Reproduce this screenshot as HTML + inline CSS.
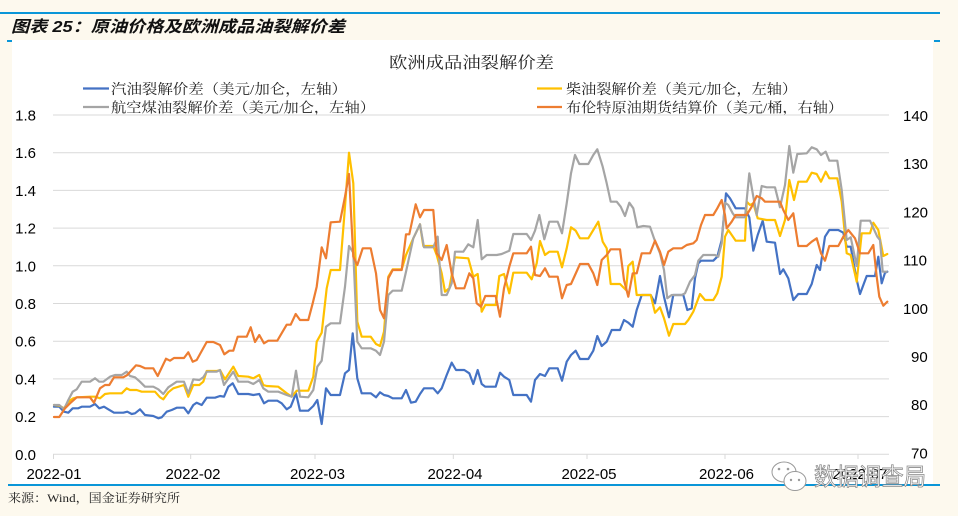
<!DOCTYPE html>
<html><head><meta charset="utf-8">
<style>
html,body{margin:0;padding:0;background:#fdf9ee;}
svg{display:block;}
.ax{font-family:"Liberation Sans",Arial,sans-serif;font-size:15px;fill:#000;}
.cj{font-family:"Liberation Serif","Noto Serif CJK SC",serif;fill:#222;}
</style></head><body>
<svg width="958" height="516" viewBox="0 0 958 516" xmlns="http://www.w3.org/2000/svg">
<rect x="0" y="0" width="958" height="516" fill="#fdf9ee"/>
<rect x="0" y="12" width="940" height="2" fill="#0a96d8"/>
<text x="11" y="32" font-family="Liberation Sans,'Noto Sans CJK SC',sans-serif" font-size="16" font-weight="bold" font-style="italic" fill="#111" textLength="334" lengthAdjust="spacingAndGlyphs">图表 25：原油价格及欧洲成品油裂解价差</text>
<rect x="12" y="40" width="921" height="444" fill="#ffffff"/>
<rect x="7" y="40" width="5" height="2" fill="#0a96d8"/>
<rect x="934" y="40" width="6" height="2" fill="#0a96d8"/>
<rect x="8" y="484" width="932" height="2" fill="#0a96d8"/>
<text x="8" y="502" class="cj" font-size="12" fill="#333" textLength="172" lengthAdjust="spacingAndGlyphs">来源：Wind，国金证券研究所</text>

<text x="389" y="68" class="cj" font-size="16" textLength="165" lengthAdjust="spacingAndGlyphs">欧洲成品油裂解价差</text>

<!-- legend -->
<line x1="83" y1="88.5" x2="109" y2="88.5" stroke="#4472c4" stroke-width="2.2"/>
<text x="111" y="94" class="cj" font-size="14" textLength="236" lengthAdjust="spacingAndGlyphs">汽油裂解价差（美元/加仑，左轴）</text>
<line x1="83" y1="107" x2="109" y2="107" stroke="#a5a5a5" stroke-width="2.2"/>
<text x="111" y="112.5" class="cj" font-size="14" textLength="264" lengthAdjust="spacingAndGlyphs">航空煤油裂解价差（美元/加仑，左轴）</text>
<line x1="537" y1="88.5" x2="562" y2="88.5" stroke="#ffc000" stroke-width="2.2"/>
<text x="566" y="94" class="cj" font-size="14" textLength="231" lengthAdjust="spacingAndGlyphs">柴油裂解价差（美元/加仑，左轴）</text>
<line x1="537" y1="107" x2="562" y2="107" stroke="#ed7d31" stroke-width="2.2"/>
<text x="566" y="112.5" class="cj" font-size="14" textLength="277" lengthAdjust="spacingAndGlyphs">布伦特原油期货结算价（美元/桶，右轴）</text>

<!-- gridlines -->
<g stroke="#d9d9d9" stroke-width="1">
<line x1="53" y1="115" x2="889" y2="115"/>
<line x1="53" y1="152.7" x2="889" y2="152.7"/>
<line x1="53" y1="190.4" x2="889" y2="190.4"/>
<line x1="53" y1="228.1" x2="889" y2="228.1"/>
<line x1="53" y1="265.8" x2="889" y2="265.8"/>
<line x1="53" y1="303.5" x2="889" y2="303.5"/>
<line x1="53" y1="341.2" x2="889" y2="341.2"/>
<line x1="53" y1="378.9" x2="889" y2="378.9"/>
<line x1="53" y1="416.6" x2="889" y2="416.6"/>
<line x1="53" y1="454.3" x2="889" y2="454.3"/>
<line x1="53.5" y1="454" x2="53.5" y2="459"/>
<line x1="190.7" y1="454" x2="190.7" y2="459"/>
<line x1="315" y1="454" x2="315" y2="459"/>
<line x1="453.3" y1="454" x2="453.3" y2="459"/>
<line x1="587" y1="454" x2="587" y2="459"/>
<line x1="725" y1="454" x2="725" y2="459"/>
<line x1="858" y1="454" x2="858" y2="459"/>
</g>

<!-- left axis -->
<g class="ax" text-anchor="end">
<text x="36" y="120.5">1.8</text>
<text x="36" y="158.2">1.6</text>
<text x="36" y="195.9">1.4</text>
<text x="36" y="233.6">1.2</text>
<text x="36" y="271.3">1.0</text>
<text x="36" y="309">0.8</text>
<text x="36" y="346.7">0.6</text>
<text x="36" y="384.4">0.4</text>
<text x="36" y="422.1">0.2</text>
<text x="36" y="459.8">0.0</text>
</g>
<!-- right axis -->
<g class="ax">
<text x="903" y="121">140</text>
<text x="903" y="169.2">130</text>
<text x="903" y="217.4">120</text>
<text x="903" y="265.6">110</text>
<text x="903" y="313.8">100</text>
<text x="911" y="362">90</text>
<text x="911" y="410.2">80</text>
<text x="911" y="458.4">70</text>
</g>
<!-- x axis -->
<g class="ax" text-anchor="middle">
<text x="54" y="479">2022-01</text>
<text x="193" y="479">2022-02</text>
<text x="317.5" y="479">2022-03</text>
<text x="455" y="479">2022-04</text>
<text x="589" y="479">2022-05</text>
<text x="726.5" y="479">2022-06</text>
<text x="860" y="479">2022-07</text>
</g>

<g fill="none" stroke-width="2.2" stroke-linejoin="round" stroke-linecap="round">
<polyline stroke="#4472c4" points="54,406.7 59.3,406.7 64,411.7 68.3,412.7 72.7,408.3 78.3,408.3 81.7,406.7 90,406.7 95,404 99.3,408.3 104,406.7 108.3,409.3 114,412.7 123.3,412.7 127.3,411.7 131.7,414 135,413.3 140,409.3 145,415 153.3,416 158.3,418.3 161.7,417.3 166.7,411.7 171.7,410 176.7,407.7 184,407.7 188.3,413.3 193.3,405 196.7,402.7 201.7,405 206.7,397.7 215,397.7 220,396 224,396.7 228.3,386.7 232.7,383.3 238.3,394 248.3,394 253.3,395 259.3,394 264,403.3 268.3,400.7 277.3,400.7 281.7,403.3 286.7,409.3 290.7,406.7 296,393.3 300,410.7 308.3,410.7 313.3,406 317.3,400 321.7,424 326,388.3 330.7,395 340,395 345,373.3 349,370 352.7,333.3 357.3,378.3 361.7,393.3 370.7,393.3 376,397.3 380,392.3 384,395 388.3,396 392.7,398.3 401.7,398.3 406,390 411,402.7 415.7,401.7 420,394 424,388.3 433.3,388.3 437.7,393.3 441.7,388.3 446.7,375 451.7,362.7 456,370 464.3,370 469.3,373.3 473.3,384 477.7,370 481.7,384 485.3,386.7 495.7,386.7 500,372.7 504,376.7 509.3,380 513.3,395 526.7,395 531,401.7 535,380 540,374 545,376 549.3,368.3 557.7,368.3 562,380.7 566.7,361.7 571,355 575.7,350.7 580,359 588.3,359 593.3,350.7 597.3,336 601.7,346 606.7,341.7 611.7,330 620,330 624,320 628.3,322.7 632.7,326.7 636.7,310 641.7,295 650.7,295 655,303.3 660,276 664,296.7 669,317.3 673.3,295 683.3,295 687.3,310 691.7,308.3 695,278.3 698.3,263.3 701,260.7 713.3,260.7 717.3,256.7 721.7,240 726,193.3 730,198.3 735.7,208.3 745,208.3 749.3,217.3 753.3,250.7 757.7,235 762.7,220.7 766.7,241.7 775,242.7 780,274 783.3,269.3 788.3,278.3 793.3,300 798.3,294 806.7,294 811.7,284 816.7,265 820,270 825,236.7 829.3,230 838.3,230 843.3,232.7 846.7,246.7 850.7,246.7 856,276.7 860,294 866.7,276 875,276 878.3,256.7 881.7,283.3 885,272.7 887.3,271.7"/>
<polyline stroke="#ffc000" points="54,405 59.3,405.7 64,408.3 68.3,401.7 73.3,398.3 77.3,397.3 90,396.7 95,396.7 100,398.3 105,394 110,393.3 121.7,393.3 126.7,388.3 130,390 136.7,390 141.7,391.7 155,391.7 160,397.3 163.3,399.3 168.3,392.3 173.3,388.3 184,385 188.3,396.7 193.3,385 199.3,385 203.3,381.7 206.7,371 216.7,371 220,370 225,379.3 230,371.7 233.3,366.7 238.3,376 248.3,376.7 253.3,378.3 259.3,375 263.3,385 266.7,386 278.3,386.7 286.7,393.3 291.7,396.7 296.7,390.7 308.3,390.7 313.3,376.7 316.7,341.7 321.7,332.7 326.7,288.3 330.7,270 340,270 345,206.7 349,152.7 353.3,183.3 357.3,321.7 361.7,336.7 370.7,336.7 376,344 380,346 384,331.7 388.3,276.7 392.7,269.3 401.7,269.3 406,255 413.3,238.3 420,224.3 423.3,246 433.3,246 436.7,255 441.7,273.3 445,291.7 449.3,288.3 455,257.3 468.3,258.3 473.3,276.7 477.7,274 481.7,311.7 485.3,305 495.7,305 499.3,276 504,274 509.3,293.3 513.3,272.7 526.7,272.7 531.7,279.3 536.7,263.3 540,241 545,255 549.3,251.7 557.7,251.7 562,267.3 566.7,248.3 571,227.3 575.7,230.7 580,238.3 588.3,238.3 593.3,230 598.3,221.7 602.7,241.7 606.7,248.3 610.7,284 620,284 626,290 628.3,266 632.7,261.7 636.7,295 650.7,295 655,312.7 660,307.3 664,318.3 669,335.7 673.3,324 685,324 688.3,320 693.3,311.7 700,294 705,300 713.3,300 717.3,293.3 721.7,276.7 725,236.7 728.3,230 735.7,240.7 745,240.7 746.7,201.7 750,205 753.3,203.3 757.7,218.3 766.7,220 775,220 780,236 785,220 789.3,180 794,200 798.3,181.7 806.7,181.7 811.7,172.7 816.7,174 821,181.7 825.7,171.7 829.3,178.3 837.3,178.3 841.7,201.7 846.7,253.3 850.7,255 856.7,281.7 861.7,233.3 870,233.3 873.3,222.7 878.3,230 883.3,256 887.3,254"/>
<polyline stroke="#a5a5a5" points="54,405 59.3,405 64,409.3 68.3,400 72.7,391.7 76.7,389.3 81.7,381.7 90,381.7 95,378.3 99.3,381.7 103.3,381.7 110,376.7 115,375 121.7,375 126.7,371.7 130,376 135,377.3 140,381.7 145,386.7 153.3,386.7 158.3,389.3 163.3,394 168.3,387.3 176.7,381.7 184,381.7 188.3,393.3 193.3,379.3 199.3,380 203.3,377.3 206.7,371.7 216.7,371.7 220,370 224,385 229.3,377.3 233.3,371.7 238.3,381.7 248.3,381.7 253.3,384 259.3,380 263.3,388.3 268.3,391.7 278.3,391.7 286.7,395 291.7,396.7 296,370.7 300,396.7 308.3,397.3 313.3,390 317.3,366.7 321.7,360.7 326,326.7 330.7,323.3 340,323.3 345,286.7 349,246 353.3,252.7 357.3,341.7 361.7,348.3 370.7,348.3 376,350.7 380,355 384,341.7 388.3,295 392.7,290.7 401.7,290.7 406,271.7 413.3,238.3 420,224.3 424,247.3 433.3,247.3 437.7,236.7 441.7,295 446.7,295 451.7,283.3 455,251.7 463.3,251.7 468.3,244.3 473.3,247.3 477.7,220 481.7,259.3 486.7,255 496.7,255 501.7,254 509.3,250.7 513.3,234 526.7,234 531,240 535,230.7 539.3,215 544.3,239.3 549.3,221.7 557.7,221.7 562,233.3 566.7,203.3 571,173.3 575,155 579.3,164 588.3,164 593.3,155 597.3,149.3 602.7,166.7 606.7,183.3 610.7,201.7 616.7,201.7 620.7,206.7 625,216 629.3,202.7 633.3,208.3 637.3,227.3 643.3,226 650,226.7 654,238.3 660,253.3 664,270 667.3,298.3 671.7,295 681.7,295 685,293.3 690,281.7 695,275 698.3,260.7 703.3,255 715,255 718.3,256.7 721.7,243.3 725,202.7 728.3,205 732.7,213.3 735.7,217.3 745,217.3 749.3,173.3 753.3,196.7 756.7,215 761.7,186 766.7,187.3 775,187.3 780,207.3 785,185 789.3,146 793.3,172.7 797.3,154 806.7,153.3 811.7,147.3 816.7,149.3 821,155 825.7,151.7 829.3,160.7 837.3,160.7 841.7,190 846.7,240 850.7,237.3 856.7,266 860.7,220.7 870,220.7 877.3,236.7 880,240 882.7,271.7 886.7,271.7"/>
<polyline stroke="#ed7d31" points="54,417 59.3,417 65,408.3 70,403.3 76.7,397.3 90,397.3 94,402.7 100,388.3 105,385 109.3,385 114,377.3 123.3,377.3 127.3,375 136,365.3 140,366 145,368.3 153.3,368.3 157.7,376 166,358.7 170,360.7 174,358 184,358 188.3,352.3 192.7,361.7 196.7,360 206.7,342 213.3,342 220,345 224.3,354.3 229.3,350.7 233.3,350.7 237.7,336.7 246.7,336.7 250.7,327.3 255,342 259.3,335 264,343.3 268.3,340.7 277.3,340.7 286.7,324.7 290.7,324.7 295.7,314 300,320 308.3,320 312.7,303.3 316.7,286.7 321.7,247.3 326,258.3 330.7,222.3 340,221.7 345,196.7 349,174 353.3,256.7 357.3,265 362.7,248.3 370.7,248.3 376,273.3 380,310 384,318.3 388.3,278.3 392.7,270 401.7,270 406,234.3 409.3,234.3 415.7,204.3 420,217.3 424,210 433.3,210 436.7,253.3 441.7,260 446.7,245 451.7,273.3 456,288.3 464.3,288.3 469.3,273.3 473.3,278.3 476.7,303.3 481,306.7 485.3,296 495.7,296 500,316.7 504,288.3 509.3,266.7 513.3,253.3 526.7,253.3 531,246.7 535,275 540,276 545,268.3 549.3,276.7 557.7,276.7 562,298.3 566.7,285 571,284 580,264 588.3,264 593.3,273.3 597.3,285 601.7,260 606.7,255 610.7,249.3 620,249.3 624,280 628.3,296.7 632.7,273.3 636.7,273.3 641.7,253.3 650,253.3 655,240.7 660,251.7 664,265 668.3,251.7 673.3,248.3 681.7,248.3 686.7,245 693.3,243.3 696.7,240 701,225 705,215 713.3,215 717.3,208.3 721.7,200 725,215 726.7,228.3 731.7,221.7 735.7,215 746.7,215 751.7,206.7 756.7,196 761.7,198.3 765,201.7 780,201.7 783.3,210 788.3,220 793.3,213.3 798.3,246 806.7,246 811.7,241.7 816.7,238.3 821,253.3 825,260.7 829.3,246 838.3,246 843.3,236.7 848.3,230 855,238.3 860,253.3 868.3,253.3 873.3,245 876.7,276.7 879.3,296.7 883.3,305.7 887.3,301.7"/>
</g>

<!-- watermark -->
<g fill="#ffffff" stroke="#9a9a9a" stroke-width="1">
<ellipse cx="784" cy="472" rx="12" ry="10"/>
<ellipse cx="795" cy="481" rx="11" ry="9.5"/>
</g>
<g fill="#9a9a9a">
<circle cx="779" cy="469" r="1.3"/><circle cx="788" cy="469" r="1.3"/>
<circle cx="791" cy="480" r="1.2"/><circle cx="799" cy="480" r="1.2"/>
</g>
<text x="814" y="485" font-family="'Noto Sans CJK SC',sans-serif" font-size="24" fill="#ffffff" stroke="#8a8a8a" stroke-width="0.8" textLength="112" lengthAdjust="spacingAndGlyphs">数据调查局</text>
</svg>
</body></html>
